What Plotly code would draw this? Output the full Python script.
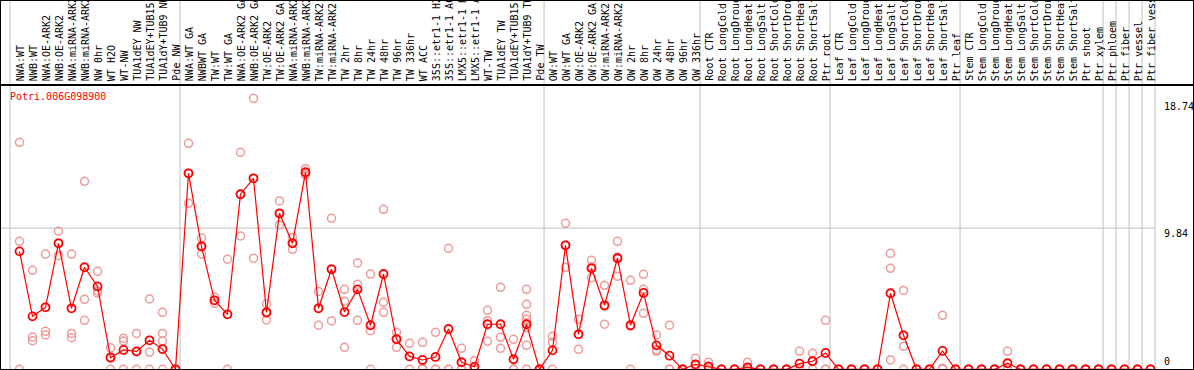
import plotly.graph_objects as go

categories = [
    "NWA:WT", "NWB:WT", "NWA:OE-ARK2", "NWB:OE-ARK2", "NWA:miRNA-ARK2", "NWB:miRNA-ARK2",
    "NW 0hr", "WT H2O", "WT-NW", "TUA1dEY NW", "TUA1dEY+TUB15 NW", "TUA1dY+TUB9 NW", "Pde NW",
    "NWA:WT GA", "NWBWT GA", "TW:WT", "TW:WT GA", "NWA:OE-ARK2 GA", "NWB:OE-ARK2 GA",
    "TW:OE-ARK2", "TW:OE-ARK2 GA", "NWA:miRNA-ARK2 GA", "NWB:miRNA-ARK2 GA", "TW:miRNA-ARK2",
    "TW:miRNA-ARK2 GA", "TW 2hr", "TW 8hr", "TW 24hr", "TW 48hr", "TW 96hr", "TW 336hr",
    "WT ACC", "35S::etr1-1 H2O", "35S::etr1-1 ACC", "LMX5::etr1-1 H2O", "LMX5::etr1-1 ACC",
    "WT-TW", "TUA1dEY TW", "TUA1dEY+TUB15 TW", "TUA1dY+TUB9 TW", "Pde TW",
    "OW:WT", "OW:WT GA", "OW:OE-ARK2", "OW:OE-ARK2 GA", "OW:miRNA-ARK2", "OW:miRNA-ARK2 GA",
    "OW 2hr", "OW 8hr", "OW 24hr", "OW 48hr", "OW 96hr", "OW 336hr",
    "Root CTR", "Root LongCold", "Root LongDrought", "Root LongHeat", "Root LongSalt",
    "Root ShortCold", "Root ShortDrought", "Root ShortHeat", "Root ShortSalt", "Ptr root",
    "Leaf CTR", "Leaf LongCold", "Leaf LongDrought", "Leaf LongHeat", "Leaf LongSalt",
    "Leaf ShortCold", "Leaf ShortDrought", "Leaf ShortHeat", "Leaf ShortSalt", "Ptr leaf",
    "Stem CTR", "Stem LongCold", "Stem LongDrought", "Stem LongHeat", "Stem LongSalt",
    "Stem ShortCold", "Stem ShortDrought", "Stem ShortHeat", "Stem ShortSalt", "Ptr shoot",
    "Ptr xylem", "Ptr phloem", "Ptr fiber", "Ptr vessel", "Ptr fiber vessel",
]

means = [
    8.22, 3.69, 4.32, 8.78, 4.25, 7.11, 5.78, 0.81, 1.35, 1.25, 2.02, 1.41, 0,
    13.66, 8.57, 4.81, 3.83, 12.2, 13.31, 3.97, 10.87, 8.78, 13.73, 4.25, 6.97,
    3.99, 5.57, 3.07, 6.64, 2.09, 0.9, 0.65, 0.86, 2.81, 0.49, 0.18, 3.14, 3.14, 0.7, 3.14, 0,
    1.32, 8.64, 2.44, 7.04, 4.46, 7.74, 3.07, 5.32, 1.67, 0.95, 0, 0.35,
    0.2, 0, 0, 0.14, 0, 0, 0, 0.39, 0.56, 1.14,
    0, 0, 0, 0, 5.3, 2.37, 0, 0, 1.28, 0,
    0, 0, 0, 0.42, 0, 0, 0, 0, 0, 0,
    0, 0, 0, 0, 0,
]

replicates = [
    [15.82, 8.92, 0], [6.9, 2.25, 1.99], [8.03, 2.65, 2.39], [9.62, 7.92, 8.8],
    [8.03, 2.5, 2.2], [13.1, 4.88, 3.41], [6.83, 5.46, 5.3], [1.5, 0.88, 0],
    [2.16, 1.97, 0], [2.5, 1.22, 0], [4.9, 1.2, 0], [3.97, 2.5, 1.97, 0], [0, 0, 0],
    [15.75, 11.57, 13.66], [9.15, 8.03, 8.53], [5.02, 4.6, 4.8], [7.67, 3.82, 0],
    [15.12, 9.29, 12.19], [18.88, 7.74, 13.3], [4.55, 3.44, 3.9], [11.73, 10.06, 10.82],
    [9.17, 8.36, 8.8], [13.98, 13.54, 13.67], [5.43, 3.07, 4.25], [10.52, 3.37, 7.0],
    [5.57, 4.74, 1.53], [7.41, 5.92, 3.41], [6.64, 2.69, 0], [11.15, 4.67, 3.97],
    [2.58, 1.53, 2.16], [1.81, 0.89, 0], [1.88, 0.07, 0], [2.58, 0, 0], [8.43, 0, 0],
    [1.46, 0, 0], [0.6, 0, 0], [4.11, 3.39, 1.95], [5.71, 2.23, 1.46], [2.09, 0, 0],
    [5.57, 4.53, 3.76, 3.48, 2.9, 1.67, 0], [0, 0, 0],
    [2.3, 1.88, 0], [10.17, 7.11, 8.64], [3.48, 1.39, 2.45], [7.6, 6.38, 7.14],
    [5.85, 3.14, 4.39], [8.92, 6.48, 7.82], [6.2, 3.0, 0], [6.62, 5.57, 3.9],
    [2.39, 1.25, 1.37], [3.07, 0, 0], [0, 0, 0], [0.77, 0.28, 0],
    [0.49, 0.1, 0], [0, 0, 0], [0, 0, 0], [0.49, 0, 0], [0, 0, 0], [0, 0, 0], [0, 0, 0],
    [1.25, 0, 0], [1.11, 0.57, 0], [3.41, 0, 0],
    [0, 0, 0], [0, 0, 0], [0, 0, 0], [0, 0, 0], [8.08, 7.04, 0.65], [5.5, 1.6, 0],
    [0, 0, 0], [0, 0, 0], [3.76, 0.08, 0], [0, 0, 0],
    [0, 0, 0], [0, 0, 0], [0, 0, 0], [1.25, 0, 0], [0, 0, 0], [0, 0, 0], [0, 0, 0],
    [0, 0, 0], [0, 0, 0], [0, 0, 0],
    [0, 0, 0], [0, 0, 0], [0, 0, 0], [0, 0, 0], [0, 0, 0],
]

gene_name = "Potri.006G098900"
y_tick_values = [18.74, 9.84, 0]
y_tick_labels = ["18.74", "9.84", "0"]
y_grid_values = [9.84]
group_break_after = [-1.08, 12, 40, 52, 62, 72, 83, 84, 85, 86, 87]

# ---- pixel geometry of the reference canvas ----
W, H = 1194, 370
X0_PX, DX_PX = 19.5, 13.0      # pixel x of category 0, spacing
Y0_PX, DY_PX = 369.3, 14.35    # pixel y of value 0, pixels per unit
LABEL_BASE_PX = 83.0           # bottom of rotated category labels
HEADER_LINE_PX = 85.0
PLOT_RIGHT_PX = 1155.0

x_range = [-X0_PX / DX_PX, (W - X0_PX) / DX_PX]
y_range = [(Y0_PX - H) / DY_PX, Y0_PX / DY_PX]

FONT = "DejaVu Sans Mono"
RED = "#ff0000"
PINK = "#ee9a9a"
GRAY = "#c0c0c0"

rx, ry = [], []
for i, reps in enumerate(replicates):
    for v in reps:
        rx.append(i)
        ry.append(v)

fig = go.Figure()
fig.add_trace(go.Scatter(
    x=rx, y=ry, mode="markers",
    marker=dict(symbol="circle-open", size=8, color=PINK, line=dict(width=1.5, color=PINK)),
    hoverinfo="skip", showlegend=False,
))
fig.add_trace(go.Scatter(
    x=list(range(len(means))), y=means, mode="lines+markers",
    line=dict(color=RED, width=1.2),
    marker=dict(symbol="circle-open", size=8, color=RED, line=dict(width=1.8, color=RED)),
    showlegend=False,
))

shapes = []
for b in group_break_after:
    xb = b + 0.35
    shapes.append(dict(type="line", xref="x", yref="paper", x0=xb, x1=xb, y0=0, y1=1,
                       line=dict(color=GRAY, width=1), layer="below"))
x_right = (PLOT_RIGHT_PX - X0_PX) / DX_PX
for g in y_grid_values:
    shapes.append(dict(type="line", xref="x", yref="y", x0=x_range[0], x1=x_right, y0=g, y1=g,
                       line=dict(color=GRAY, width=1), layer="below"))
shapes.append(dict(type="line", xref="paper", yref="paper", x0=0, x1=1,
                   y0=1 - HEADER_LINE_PX / H, y1=1 - HEADER_LINE_PX / H,
                   line=dict(color="black", width=2)))
shapes.append(dict(type="rect", xref="paper", yref="paper", x0=0, x1=1, y0=0, y1=1,
                   line=dict(color="black", width=2)))

annotations = []
for i, lab in enumerate(categories):
    annotations.append(dict(
        x=i + 0.05, y=1 - LABEL_BASE_PX / H, xref="x", yref="paper",
        text=lab, textangle=-90, xanchor="center", yanchor="bottom",
        showarrow=False, font=dict(family=FONT, size=10, color="black"),
    ))
annotations.append(dict(
    x=8 / W, y=1 - 96.5 / H, xref="paper", yref="paper", text=gene_name,
    xanchor="left", yanchor="middle", showarrow=False,
    font=dict(family=FONT, size=10, color=RED),
))
tick_shift = {"18.74": -6, "9.84": -5, "0": 7.5}
for v, t in zip(y_tick_values, y_tick_labels):
    annotations.append(dict(
        x=1162 / W, y=v, xref="paper", yref="y", text=t, xanchor="left", yanchor="middle",
        yshift=tick_shift[t], showarrow=False, font=dict(family=FONT, size=10, color="black"),
    ))

fig.update_layout(
    width=W, height=H, margin=dict(l=0, r=0, t=0, b=0, pad=0),
    paper_bgcolor="white", plot_bgcolor="white",
    xaxis=dict(range=x_range, visible=False, fixedrange=True),
    yaxis=dict(range=y_range, visible=False, fixedrange=True),
    shapes=shapes, annotations=annotations, showlegend=False,
)
fig.write_html(
    "out.html",
    config={"displayModeBar": False},
    post_script="document.body.style.margin='0';document.body.style.overflow='hidden';",
)
